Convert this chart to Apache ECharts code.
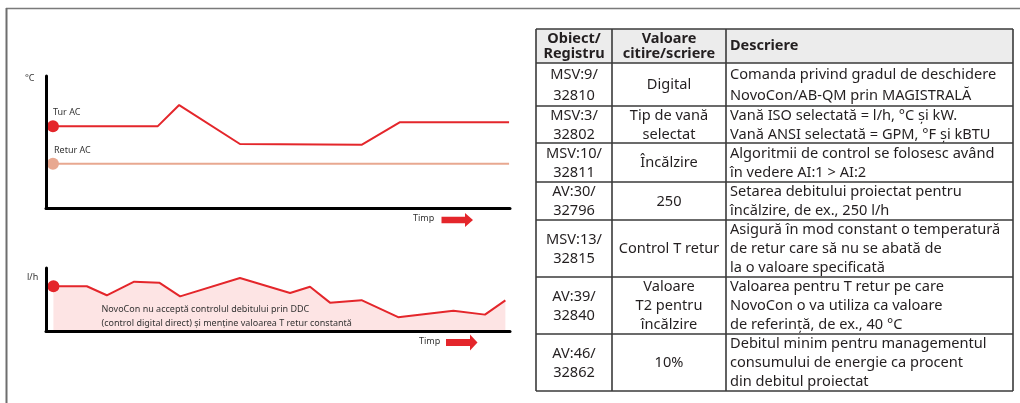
<!DOCTYPE html>
<html>
<head>
<meta charset="utf-8">
<script src="https://cdn.jsdelivr.net/npm/echarts@6/dist/echarts.min.js"></script>
<style>
  html, body { margin: 0; padding: 0; background: #ffffff; }
  #chart { width: 1020px; height: 403px; }
</style>
</head>
<body>
<div id="chart"></div>
<script>
// Supply temperature (Tur AC) and return temperature (Retur AC) over time
const timpTur = [1.5, 24.1, 28.7, 41.8, 68.1, 76.3, 99.8];
const tempTur = [62, 62, 78, 48.5, 48, 65, 65];
const timpRetur = [1.5, 99.8];
const tempRetur = [33.5, 33.5];

// Flow (l/h) over time
const timpDebit = [1.6, 8.8, 13.1, 19, 24.4, 28.9, 41.8, 52.6, 56.9, 61.2, 68, 75.9, 87.8, 94.6, 99];
const debit = [71, 71, 56.7, 78.3, 76.7, 55, 84, 60.3, 70.3, 45, 49, 22, 32, 26, 48.7];

// Table contents
const antet = ['Obiect/\nRegistru', 'Valoare\ncitire/scriere', 'Descriere'];
const obiect = ['MSV:9/\n32810', 'MSV:3/\n32802', 'MSV:10/\n32811', 'AV:30/\n32796',
  'MSV:13/\n32815', 'AV:39/\n32840', 'AV:46/\n32862'];
const valoare = ['Digital', 'Tip de vană\nselectat', 'Încălzire', '250',
  'Control T retur', 'Valoare\nT2 pentru\nîncălzire', '10%'];
const descriere = [
  'Comanda privind gradul de deschidere\nNovoCon/AB-QM prin MAGISTRALĂ',
  'Vană ISO selectată = l/h, °C și kW.\nVană ANSI selectată = GPM, °F și kBTU',
  'Algoritmii de control se folosesc având\nîn vedere AI:1 > AI:2',
  'Setarea debitului proiectat pentru\nîncălzire, de ex., 250 l/h',
  'Asigură în mod constant o temperatură\nde retur care să nu se abată de\nla o valoare specificată',
  'Valoarea pentru T retur pe care\nNovoCon o va utiliza ca valoare\nde referință, de ex., 40 °C',
  'Debitul minim pentru managementul\nconsumului de energie ca procent\ndin debitul proiectat'
];

const RED = '#e4262b';
const SALMON = '#e8a890';
const FONT = '"Noto Sans", sans-serif';

// Table geometry
const colX = [536, 612, 726, 1013];
const rowY = [29, 63, 106, 143, 182, 220, 277, 334, 391];

const zip = (xs, ys) => xs.map((x, i) => [x, ys[i]]);

function tableGraphics() {
  const g = [];
  const tx = '#231f20';
  const body = '14.6px ' + FONT;
  const head = 'bold 14.5px ' + FONT;
  // header background
  g.push({ type: 'rect', shape: { x: colX[0], y: rowY[0], width: colX[3] - colX[0], height: rowY[1] - rowY[0] },
    style: { fill: '#ececec' }, silent: true });
  // header text
  const hy = (rowY[0] + rowY[1]) / 2;
  g.push({ type: 'text', x: (colX[0] + colX[1]) / 2, y: hy,
    style: { text: antet[0], font: head, fill: tx, align: 'center', verticalAlign: 'middle', lineHeight: 15 } });
  g.push({ type: 'text', x: (colX[1] + colX[2]) / 2, y: hy,
    style: { text: antet[1], font: head, fill: tx, align: 'center', verticalAlign: 'middle', lineHeight: 15 } });
  g.push({ type: 'text', x: colX[2] + 4, y: hy,
    style: { text: antet[2], font: head, fill: tx, align: 'left', verticalAlign: 'middle' } });
  // body rows
  for (let r = 0; r < obiect.length; r++) {
    const cy = (rowY[r + 1] + rowY[r + 2]) / 2 + 0.5;
    const lh = r === 0 ? 21 : 19;
    g.push({ type: 'text', x: (colX[0] + colX[1]) / 2, y: cy,
      style: { text: obiect[r], font: body, fill: tx, align: 'center', verticalAlign: 'middle', lineHeight: lh } });
    g.push({ type: 'text', x: (colX[1] + colX[2]) / 2, y: cy,
      style: { text: valoare[r], font: body, fill: tx, align: 'center', verticalAlign: 'middle', lineHeight: lh } });
    g.push({ type: 'text', x: colX[2] + 4, y: cy,
      style: { text: descriere[r], font: body, fill: tx, align: 'left', verticalAlign: 'middle', lineHeight: lh } });
  }
  // grid lines
  const ls = { stroke: '#3a3a3a', lineWidth: 1.6 };
  rowY.forEach(y => g.push({ type: 'line', shape: { x1: colX[0], y1: y, x2: colX[3], y2: y }, style: ls, silent: true }));
  colX.forEach(x => g.push({ type: 'line', shape: { x1: x, y1: rowY[0], x2: x, y2: rowY[rowY.length - 1] }, style: ls, silent: true }));
  return g;
}

function arrow(x0, x1, x2, cy, shaftH, headH) {
  return { type: 'polygon', silent: true,
    shape: { points: [[x0, cy - shaftH / 2], [x1, cy - shaftH / 2], [x1, cy - headH / 2], [x2, cy],
      [x1, cy + headH / 2], [x1, cy + shaftH / 2], [x0, cy + shaftH / 2]] },
    style: { fill: RED } };
}

const smallText = (text, x, y) => ({ type: 'text', x, y, silent: true,
  style: { text, font: '9px ' + FONT, fill: '#333', align: 'left', verticalAlign: 'middle' } });

const option = {
  animation: false,
  backgroundColor: '#ffffff',
  grid: [
    { left: 46, top: 76, width: 464, height: 132, outerBoundsMode: 'none' },
    { left: 46, top: 268, width: 464, height: 63, outerBoundsMode: 'none' }
  ],
  xAxis: [0, 1].map(i => ({
    type: 'value', gridIndex: i, min: 0, max: 100, z: 6,
    axisLine: { show: true, onZero: false, lineStyle: { color: '#000', width: 3 } },
    axisTick: { show: false }, axisLabel: { show: false }, splitLine: { show: false }
  })),
  yAxis: [0, 1].map(i => ({
    type: 'value', gridIndex: i, min: 0, max: 100, z: 6,
    axisLine: { show: true, onZero: false, lineStyle: { color: '#000', width: 3 } },
    axisTick: { show: false }, axisLabel: { show: false }, splitLine: { show: false }
  })),
  series: [
    { type: 'line', name: 'Retur AC', xAxisIndex: 0, yAxisIndex: 0, data: zip(timpRetur, tempRetur),
      showSymbol: false, lineStyle: { color: SALMON, width: 2 }, silent: true },
    { type: 'line', name: 'Tur AC', xAxisIndex: 0, yAxisIndex: 0, data: zip(timpTur, tempTur),
      showSymbol: false, lineStyle: { color: RED, width: 2 }, silent: true },
    { type: 'scatter', xAxisIndex: 0, yAxisIndex: 0, symbolSize: 12, silent: true, z: 5, clip: false,
      data: [[timpTur[0], tempTur[0]]], itemStyle: { color: RED, opacity: 1 },
      label: { show: true, formatter: 'Tur AC', position: [6, -12], color: '#333', fontSize: 9, fontFamily: FONT } },
    { type: 'scatter', xAxisIndex: 0, yAxisIndex: 0, symbolSize: 12, silent: true, z: 5, clip: false,
      data: [[timpRetur[0], tempRetur[0]]], itemStyle: { color: SALMON, opacity: 1 },
      label: { show: true, formatter: 'Retur AC', position: [7, -12], color: '#333', fontSize: 9, fontFamily: FONT } },
    { type: 'line', name: 'Debit', xAxisIndex: 1, yAxisIndex: 1, data: zip(timpDebit, debit),
      showSymbol: false, lineStyle: { color: RED, width: 2 }, silent: true,
      areaStyle: { color: '#fde4e4', opacity: 1 } },
    { type: 'scatter', xAxisIndex: 1, yAxisIndex: 1, symbolSize: 12, silent: true, z: 5, clip: false,
      data: [[timpDebit[0], debit[0]]], itemStyle: { color: RED, opacity: 1 } }
  ],
  graphic: [
    // frame
    { type: 'line', shape: { x1: 6, y1: 8.5, x2: 1020, y2: 8.5 }, style: { stroke: '#7a7a7a', lineWidth: 1.5 }, silent: true },
    { type: 'line', shape: { x1: 6.5, y1: 8, x2: 6.5, y2: 403 }, style: { stroke: '#6e6e6e', lineWidth: 2 }, silent: true },
    // axis units and time arrows
    smallText('°C', 25, 78),
    smallText('l/h', 27, 277),
    smallText('Timp', 413, 218),
    arrow(441.5, 465, 473, 220, 6.5, 14),
    smallText('Timp', 419, 341),
    arrow(446, 470, 477.5, 342.5, 7, 16),
    { type: 'text', x: 101.5, y: 316.5, silent: true, z: 20,
      style: { text: 'NovoCon nu acceptă controlul debitului prin DDC\n(control digital direct) și menține valoarea T retur constantă',
        font: '9px ' + FONT, fill: '#333', align: 'left', verticalAlign: 'middle', lineHeight: 14 } }
  ].concat(tableGraphics())
};

const chart = echarts.init(document.getElementById('chart'), null, { renderer: 'canvas' });
chart.setOption(option);
</script>
</body>
</html>
